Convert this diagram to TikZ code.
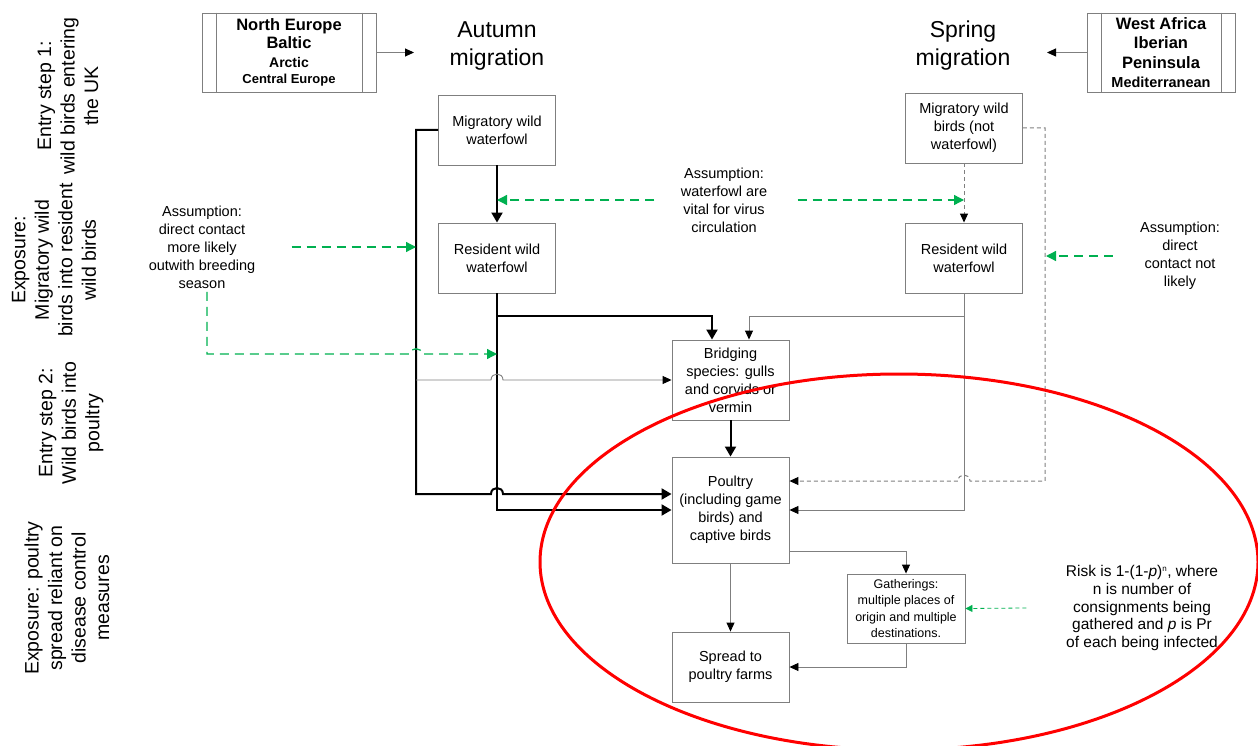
\documentclass[tikz,border=0pt]{standalone}
\usepackage{fontspec}
\setmainfont{Liberation Sans}
\usetikzlibrary{arrows.meta}
\definecolor{linegray}{HTML}{7F7F7F}
\definecolor{assumegreen}{HTML}{00B050}
\tikzset{every picture/.style={x=1pt,y=-1pt},
  box/.style={draw=linegray,line width=0.9pt,align=center,minimum width=117pt,minimum height=70pt,inner sep=2pt,font=\fontsize{14.5}{18}\selectfont},
  region/.style={draw=linegray,line width=0.9pt,align=center,minimum height=79pt,inner sep=2pt,font=\bfseries\fontsize{16.5}{19.5}\selectfont},
  heading/.style={align=center,font=\fontsize{23}{28}\selectfont},
  stage/.style={align=center,rotate=90,font=\fontsize{19.5}{23.5}\selectfont},
  note/.style={align=center,font=\fontsize{14.5}{18}\selectfont},
  flow/.style={line width=2pt,-{Triangle[length=10pt,width=11pt]}},
  link/.style={draw=linegray,line width=0.9pt,-{Triangle[length=9pt,width=8pt,color=black]}},
  dlink/.style={link,line width=1pt,dash pattern=on 4pt off 3pt},
  assume/.style={draw=assumegreen,line width=1.3pt,dash pattern=on 9pt off 6pt,-{Triangle[length=10pt,width=10pt]}},
  smallassume/.style={assume,line width=0.8pt,dash pattern=on 4pt off 3pt,-{Triangle[length=7pt,width=7pt]}}}

\begin{document}
\begin{tikzpicture}

          \useasboundingbox (0,0) rectangle (1258,746);

          \node[stage] (stage1) at (68,96){Entry step 1:\\wild birds entering\\the UK};
          \node[stage] (stage2) at (54,260){Exposure:\\Migratory wild\\birds into resident\\wild birds};
          \node[stage] (stage3) at (71,423){Entry step 2:\\Wild birds into\\poultry};
          \node[stage] (stage4) at (67,598){Exposure: poultry\\spread reliant on\\disease control\\measures};

          \node[region,minimum width=174pt] (north) at (289,52.5){North Europe\\[-1pt]Baltic\\[-1pt]{\fontsize{14}{17.5}\selectfont Arctic}\\[-3pt]{\fontsize{13}{17}\selectfont Central Europe}};
          \node[region,minimum width=148pt] (west) at (1161,52.5){West Africa\\Iberian\\Peninsula\\{\fontsize{14.5}{19}\selectfont Mediterranean}};
          \draw[linegray,line width=0.9pt] ([xshift=15pt]north.north west) -- ([xshift=15pt]north.south west);
          \draw[linegray,line width=0.9pt] ([xshift=-14pt]north.north east) -- ([xshift=-14pt]north.south east);
          \draw[linegray,line width=0.9pt] ([xshift=15pt]west.north west) -- ([xshift=15pt]west.south west);
          \draw[linegray,line width=0.9pt] ([xshift=-14pt]west.north east) -- ([xshift=-14pt]west.south east);

          \node[heading] (autumn) at (497,46){Autumn\\migration};
          \node[heading] (spring) at (963,46){Spring\\migration};
          \coordinate (autumnin) at (414,52.5);
          \coordinate (springin) at (1047,52.5);

          \node[box] (amig) at (497,130){Migratory wild\\waterfowl};
          \node[box] (ares) at (497,258){Resident wild\\waterfowl};
          \node[box] (smig) at (964,128){Migratory wild\\birds (not\\waterfowl)};
          \node[box] (sres) at (964,258){Resident wild\\waterfowl};
          \node[box,minimum height=80pt] (bridge) at (730.5,380){Bridging\\species: gulls\\and corvids or\\vermin};
          \node[box,minimum height=106pt] (poultry) at (730.5,510){Poultry\\(including game\\birds) and\\captive birds};
          \node[box] (spread) at (730.5,667){Spread to\\poultry farms};
          \node[box,minimum width=118pt,minimum height=69pt,font=\fontsize{12.5}{16.3}\selectfont] (gather) at (906,608.5){Gatherings:\\multiple places of\\origin and multiple\\destinations.};

          \node[note] (note1) at (202,247){Assumption:\\direct contact\\more likely\\outwith breeding\\season};
          \node[note] (note2) at (724,200){Assumption:\\waterfowl are\\vital for virus\\circulation};
          \node[note] (note3) at (1180,256){Assumption:\\direct\\contact not\\likely};
          \node[note,font=\fontsize{15.5}{17.8}\selectfont] (risk) at (1142,608){Risk is 1-(1-\textit{p})\textsuperscript{\fontsize{8}{8}\selectfont n}, where\\n is number of\\consignments being\\gathered and \textit{p} is Pr\\of each being infected};

          \draw[link](north)--(autumnin);
          \draw[link](west)--(springin);

          \draw[flow](amig)--(ares);
          \draw[flow](amig.west)-|(416,494)--(491,494)..controls(491,486)and(503,486)..(503,494)--(poultry.west |- 0,494);
          \draw[flow](ares)|-(poultry.west);
          \draw[flow](ares.south |- 0,316)-|([xshift=-18.5pt]bridge.north);
          \draw[link](416,380)--(491,380)..controls(491,372)and(503,372)..(503,380)--(bridge.west);
          \draw[flow](bridge)--(poultry);

          \draw[dlink](smig)--(sres);
          \draw[link](sres)|-(poultry.east);
          \draw[link](sres.south |- 0,316)-|([xshift=18.5pt]bridge.north);
          \draw[dlink](smig.east)-|(1045,481)--(970,481)..controls(970,473)and(958,473)..(958,481)--(poultry.east |- 0,481);

          \draw[link](poultry)--(spread);
          \draw[link](poultry.east |- 0,551)-|(gather.north);
          \draw[link](gather.south)|-(spread.east);

          \draw[assume]([xshift=33pt]note1.east)--(416,247);
          \draw[assume]([xshift=5pt]note1.south)--(207,354)--(410,354)..controls(410,347)and(422,347)..(422,354)--(amig.south |- 0,354);
          \draw[assume]([xshift=-23pt]note2.west)--(amig.south |- 0,200);
          \draw[assume]([xshift=27pt]note2.east)--(sres.north |- 0,200);
          \draw[assume]([xshift=-24pt]note3.west)--(1046,256);
          \draw[smallassume]([xshift=-36pt]risk.west)--(gather.east);

          \draw[red,line width=3pt](899,562) ellipse [x radius=359,y radius=188];

        \end{tikzpicture}
\end{document}
